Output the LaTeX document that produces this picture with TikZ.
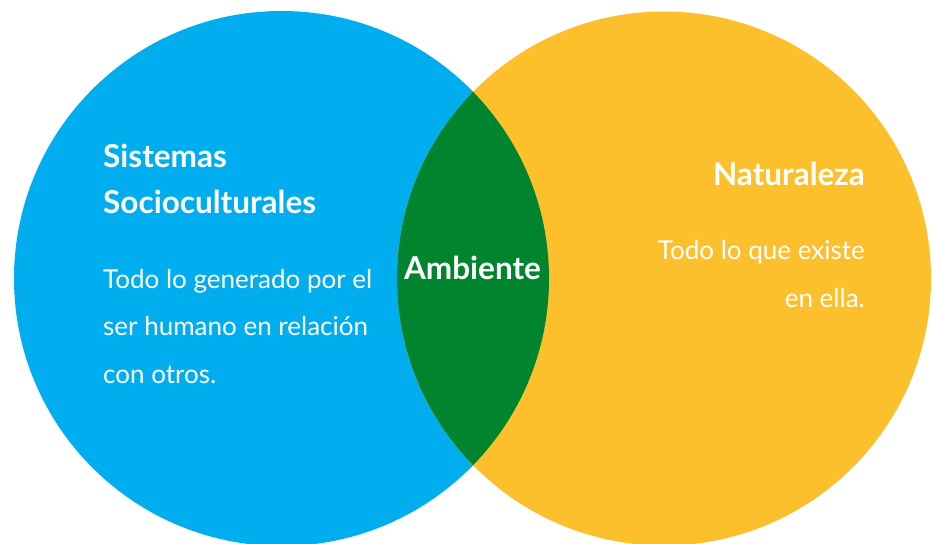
\documentclass[tikz,border=0pt]{standalone}
\usepackage{fontspec}
\setmainfont{Lato}
\definecolor{socblue}{RGB}{0,174,239}
\definecolor{natyellow}{RGB}{253,192,45}
\definecolor{ambgreen}{RGB}{0,132,45}

\begin{document}
\begin{tikzpicture}[x=1pt, y=-1pt,
    title/.style={text=white, inner sep=0pt, font=\fontsize{31.5}{46}\selectfont\bfseries},
    body/.style={text=white, inner sep=0pt, font=\fontsize{26}{47.5}\selectfont}]
  \useasboundingbox (0,0) rectangle (933,543);
  \clip (0,0) rectangle (933,543);
  \coordinate (soc) at (281.5,278.5);
  \coordinate (nat) at (664,278.5);
  \fill[socblue] (soc) circle[radius=267.5pt];
  \fill[natyellow] (nat) circle[radius=267pt];
  \begin{scope}
    \clip (soc) circle[radius=267.5pt];
    \fill[ambgreen] (nat) circle[radius=267pt];
  \end{scope}
  % textos (anclados en la linea base de la ultima linea)
  \node (soc-title) [title, anchor=base west, align=left] at (103,213) {Sistemas\\Socioculturales};
  \node (soc-text) [body, anchor=base west, align=left] at (103,383)
    {Todo lo generado por el\\ser humano en relación\\con otros.};
  \node (amb) [title, anchor=base] at (472.5,279) {Ambiente};
  \node (nat-title) [title, anchor=base east, align=right] at (865,185) {Naturaleza};
  \node (nat-text) [body, anchor=base east, align=right] at (865,307)
    {Todo lo que existe\\en ella.};
\end{tikzpicture}
\end{document}
